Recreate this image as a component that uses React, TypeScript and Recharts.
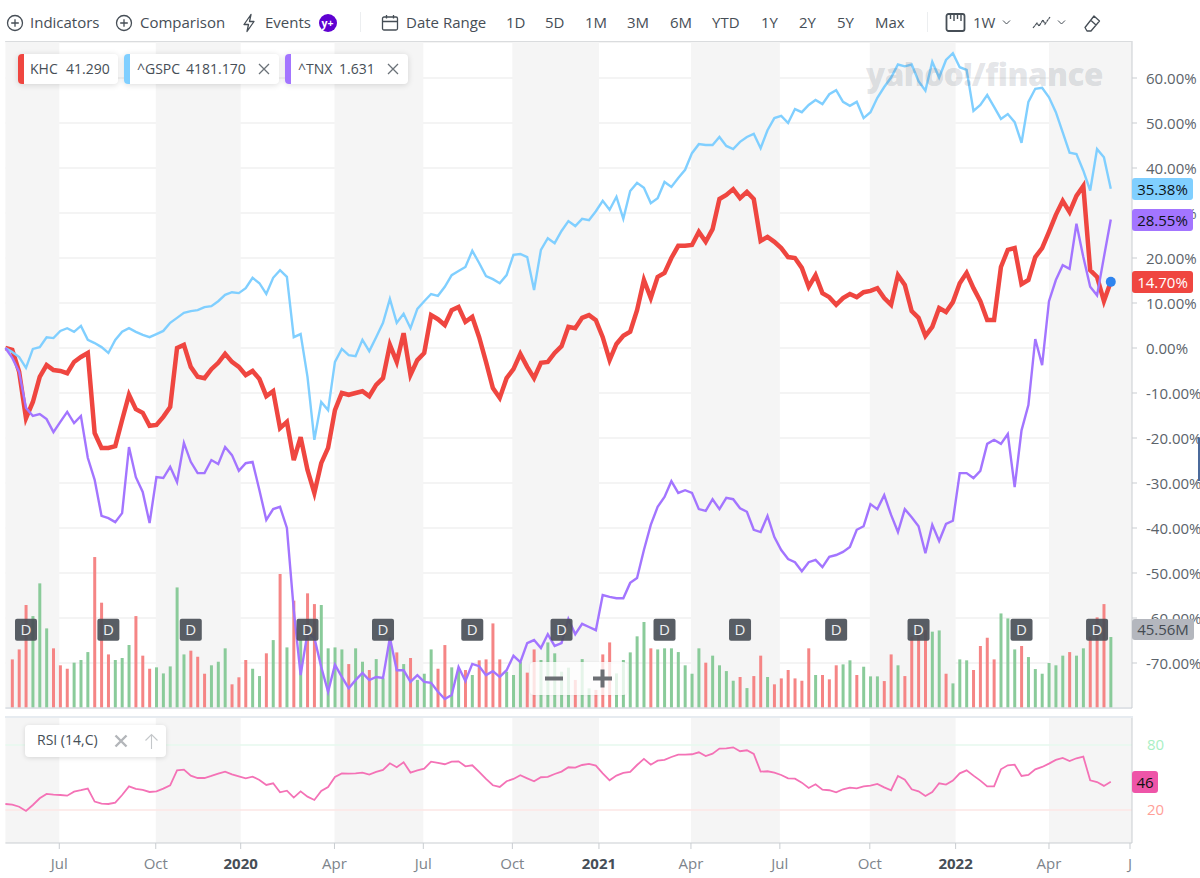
import React from "react";
import { ComposedChart, Line, Bar, Cell, XAxis, YAxis, CartesianGrid, ReferenceArea, ReferenceDot, ReferenceLine } from "recharts";

const khc = [
  0.0, -0.4, -5.3, -15.6, -12.0, -6.4, -3.8, -4.9, -5.1, -5.6,
  -3.1, -2.0, -1.1, -18.9, -22.2, -22.2, -21.8, -16.0, -10.4, -13.6,
  -14.4, -17.3, -17.1, -15.3, -13.1, 0.0, 0.7, -4.2, -6.4, -6.7,
  -4.7, -3.3, -1.3, -3.1, -4.2, -6.0, -5.1, -6.9, -10.7, -9.6,
  -17.8, -16.4, -24.9, -19.8, -27.1, -32.2, -25.6, -22.2, -13.8, -10.0,
  -10.4, -10.0, -9.6, -10.7, -8.2, -6.7, 0.7, -3.1, 3.3, -6.0,
  -2.7, -1.1, 7.3, 6.4, 5.1, 8.4, 9.1, 5.8, 6.9, 2.4,
  -3.1, -8.9, -11.1, -6.7, -4.7, -1.3, -4.2, -6.7, -3.3, -3.1,
  -1.1, 0.4, 4.7, 4.4, 6.7, 7.3, 6.2, 2.4, -2.7, 0.9,
  2.7, 3.6, 8.4, 15.1, 11.1, 15.8, 16.7, 20.0, 22.7, 22.7,
  22.9, 25.8, 23.6, 26.4, 33.1, 34.0, 35.3, 33.3, 34.7, 33.1,
  23.8, 24.7, 23.6, 22.2, 20.2, 20.0, 17.8, 13.6, 16.2, 12.2,
  11.3, 9.6, 11.1, 12.0, 11.3, 12.4, 12.7, 13.3, 11.1, 9.6,
  16.2, 14.0, 8.2, 6.7, 2.7, 4.7, 8.9, 8.0, 10.2, 14.4,
  16.7, 13.3, 10.4, 6.2, 6.2, 18.0, 21.8, 22.2, 14.2, 15.1,
  20.2, 22.2, 25.8, 29.6, 32.7, 30.2, 33.8, 36.0, 17.3, 15.8,
  10.4, 14.7,
];

const gspc = [
  0.0, -0.9, -2.0, -4.4, -0.2, 0.2, 2.4, 2.2, 3.8, 4.4,
  3.6, 4.9, 1.8, 1.1, 0.2, -1.1, 1.8, 3.6, 4.4, 3.6,
  2.9, 2.4, 3.1, 3.8, 5.6, 6.7, 7.8, 8.2, 8.4, 9.1,
  9.3, 10.4, 11.8, 12.4, 12.2, 13.3, 15.6, 14.4, 12.0, 15.6,
  17.3, 15.8, 2.4, 3.1, -6.4, -20.4, -12.0, -13.8, -3.1, -0.2,
  -1.6, -1.8, 1.8, -0.7, 2.4, 5.6, 10.9, 5.6, 7.6, 4.4,
  8.7, 10.4, 12.0, 11.6, 13.6, 16.2, 17.1, 18.0, 21.6, 18.9,
  16.0, 15.3, 14.4, 16.2, 20.7, 20.9, 20.2, 12.9, 21.8, 24.4,
  23.3, 26.0, 28.2, 27.1, 28.7, 28.4, 30.4, 32.7, 30.7, 33.6,
  28.7, 34.9, 36.7, 35.6, 32.2, 33.3, 36.9, 35.8, 37.8, 39.6,
  43.3, 45.3, 45.1, 45.1, 46.9, 44.9, 44.2, 45.8, 46.9, 47.6,
  44.4, 48.4, 51.1, 51.6, 50.0, 53.1, 52.4, 54.0, 55.1, 54.2,
  56.4, 57.3, 54.7, 53.8, 54.7, 51.1, 52.4, 55.6, 58.0, 60.1,
  63.0, 62.6, 63.0, 59.3, 57.2, 63.6, 60.1, 64.0, 65.5, 62.4,
  61.8, 52.7, 54.0, 56.2, 53.6, 50.9, 52.0, 50.2, 45.6, 54.7,
  57.6, 57.8, 55.7, 52.4, 47.9, 43.4, 43.1, 39.4, 35.0, 44.2,
  42.4, 35.38,
];

const tnx = [
  0.0, -2.2, -5.3, -13.3, -15.1, -14.7, -15.8, -18.7, -16.4, -14.2,
  -16.7, -15.1, -24.4, -29.3, -37.3, -37.8, -38.7, -36.7, -22.0, -28.7,
  -32.0, -38.9, -28.7, -28.9, -26.4, -29.8, -21.1, -25.3, -27.8, -27.8,
  -24.9, -25.8, -22.0, -23.8, -27.3, -25.6, -25.3, -31.6, -38.2, -35.8,
  -35.3, -40.0, -58.2, -72.7, -63.3, -64.4, -70.9, -76.4, -70.4, -73.1,
  -75.6, -73.8, -72.2, -73.8, -73.1, -73.3, -64.4, -71.6, -71.6, -74.2,
  -72.7, -74.2, -74.4, -76.4, -78.0, -77.1, -70.9, -74.0, -70.2, -70.7,
  -72.7, -71.8, -73.1, -71.6, -68.4, -69.8, -65.6, -64.9, -66.7, -63.6,
  -66.2, -65.6, -60.2, -63.6, -61.3, -62.0, -62.7, -54.9, -55.3, -55.6,
  -55.6, -52.2, -51.1, -44.9, -39.3, -35.3, -33.1, -29.6, -32.2, -31.6,
  -32.2, -35.8, -36.2, -33.6, -35.8, -33.3, -33.6, -35.6, -36.4, -40.4,
  -40.9, -37.3, -42.0, -44.9, -46.9, -47.6, -49.6, -47.6, -47.1, -48.7,
  -46.4, -46.0, -45.3, -44.2, -40.4, -39.6, -34.7, -35.8, -32.7, -37.1,
  -40.9, -35.8, -37.6, -39.6, -45.6, -39.3, -42.9, -39.1, -38.4, -27.8,
  -27.8, -28.9, -27.3, -21.3, -20.4, -21.3, -19.1, -30.9, -18.3, -12.7,
  2.0, -3.8, 10.4, 15.1, 18.4, 17.6, 27.6, 20.2, 13.6, 11.7,
  20.2, 28.55,
];

const volumeMillions = [
  null, 31.2, 37.6, 66.1, 59.0, 80.0, 51.1, 38.3, 27.4, 25.2,
  29.1, 30.8, 35.9, 96.9, 67.6, 34.4, 30.8, 32.1, 40.4, 59.0,
  33.6, 25.2, 26.1, 22.2, 26.7, 77.4, 34.4, 36.8, 32.9, 22.0,
  27.4, 29.7, 38.3, 15.2, 19.7, 30.8, 25.2, 20.5, 35.1, 43.6,
  86.0, 38.9, 68.9, 43.6, 73.6, 66.7, 66.1, 38.3, 38.9, 37.6,
  28.2, 38.3, 29.7, 24.4, 31.4, 19.0, 43.6, 35.7, 28.2, 32.1,
  18.0, 22.0, 37.6, 25.2, 40.4, 26.1, 25.0, 24.4, 21.2, 30.6,
  31.2, 54.3, 31.2, 23.3, 21.2, 29.7, 22.7, 37.6, 30.8, 42.1,
  35.1, 23.3, 25.9, 18.0, 31.4, 12.6, 11.6, 34.4, 42.1, 22.2,
  30.8, 35.7, 46.0, 55.2, 38.3, 37.6, 38.3, 38.3, 35.9, 27.4,
  22.0, 38.3, 29.1, 33.6, 27.4, 23.7, 17.5, 19.9, 12.8, 20.5,
  33.6, 19.9, 15.2, 19.0, 24.4, 19.0, 17.5, 38.3, 21.2, 21.2,
  18.4, 27.4, 28.0, 30.6, 21.2, 26.5, 20.3, 20.3, 17.3, 34.4,
  27.4, 20.5, 45.8, 49.0, 50.0, 49.0, 49.8, 22.0, 15.8, 31.2,
  30.6, 24.4, 39.8, 45.1, 31.2, 60.7, 57.5, 37.6, 39.8, 32.7,
  25.0, 22.0, 28.9, 27.4, 33.6, 35.9, 33.6, 38.3, 45.8, 58.2,
  66.7, 45.56,
];

const volumeDirection = [
  "", "r", "r", "r", "g", "g", "g", "r", "r", "r",
  "g", "g", "g", "r", "r", "r", "g", "g", "g", "r",
  "r", "r", "g", "g", "g", "g", "g", "r", "r", "r",
  "g", "g", "g", "r", "r", "r", "g", "g", "r", "g",
  "r", "g", "r", "g", "r", "r", "g", "g", "g", "g",
  "r", "g", "g", "r", "g", "g", "g", "r", "g", "r",
  "g", "g", "g", "r", "r", "g", "g", "r", "g", "r",
  "r", "r", "r", "g", "g", "g", "r", "r", "g", "g",
  "g", "g", "g", "r", "g", "g", "r", "r", "r", "g",
  "g", "g", "g", "g", "r", "g", "g", "g", "g", "g",
  "g", "g", "r", "g", "g", "g", "g", "r", "g", "r",
  "r", "g", "r", "r", "r", "r", "r", "r", "g", "r",
  "r", "r", "g", "g", "r", "g", "g", "g", "r", "r",
  "g", "r", "r", "r", "r", "g", "g", "r", "g", "g",
  "g", "r", "r", "r", "r", "g", "g", "g", "r", "g",
  "g", "g", "g", "g", "g", "r", "g", "g", "r", "r",
  "r", "g",
];

const rsi = [
  25.5, 24.9, 23.0, 19.1, 24.6, 30.8, 34.8, 34.2, 33.8, 33.2,
  36.9, 38.2, 39.7, 27.7, 25.8, 25.5, 26.8, 33.8, 41.8, 39.4,
  38.5, 36.6, 37.2, 39.7, 42.8, 56.6, 57.2, 51.7, 49.5, 49.5,
  51.4, 53.5, 55.4, 52.9, 51.1, 49.2, 50.8, 47.7, 43.1, 44.6,
  36.3, 37.8, 31.4, 37.2, 32.3, 29.2, 37.5, 41.2, 50.5, 53.8,
  53.5, 53.8, 54.5, 52.6, 55.1, 56.9, 63.1, 59.4, 64.0, 54.5,
  56.6, 58.2, 64.6, 63.4, 62.2, 64.6, 64.9, 60.3, 61.2, 55.1,
  48.6, 42.8, 41.2, 46.5, 48.6, 52.0, 49.2, 46.5, 50.2, 50.5,
  53.2, 55.4, 59.4, 59.1, 61.5, 62.5, 60.9, 53.8, 47.4, 51.7,
  54.2, 55.1, 61.5, 67.1, 61.8, 65.5, 66.2, 68.9, 71.1, 71.1,
  71.4, 73.2, 69.8, 72.0, 76.6, 76.9, 77.8, 74.2, 75.1, 71.7,
  55.4, 55.7, 54.5, 52.3, 49.2, 48.9, 45.2, 40.3, 43.7, 38.8,
  38.2, 36.3, 39.1, 40.6, 40.0, 41.8, 42.5, 44.0, 40.9, 38.2,
  51.4, 48.0, 39.1, 37.2, 32.9, 36.6, 44.6, 43.4, 47.1, 53.8,
  56.6, 51.7, 47.1, 41.8, 41.8, 57.5, 61.2, 61.8, 51.4, 52.3,
  57.5, 59.7, 62.8, 66.2, 68.0, 65.2, 67.7, 69.2, 47.4, 45.8,
  42.2, 46.0,
];

const dateTickPositions = [7.85, 21.9, 34.27, 47.93, 60.87, 73.84, 86.45, 99.85, 112.8, 125.9, 138.4, 152.0, 163.8];
const dateTickLabels = ["Jul", "Oct", "2020", "Apr", "Jul", "Oct", "2021", "Apr", "Jul", "Oct", "2022", "Apr", "J"];
const shadedFrom = [0, 21.9, 47.93, 73.84, 99.85, 125.9, 152.0];
const shadedTo = [7.85, 34.27, 60.87, 86.45, 112.8, 138.4, 164.09];
const dividendWeeks = [3, 15, 27, 44, 55, 68, 81, 96, 107, 121, 133, 148, 159];
const percentTicks = [60, 50, 40, 30, 20, 10, 0, -10, -20, -30, -40, -50, -60, -70];
const rsiTicks = [80, 20];
const rangeButtons = [["1D", 506], ["5D", 545], ["1M", 585], ["3M", 627], ["6M", 670], ["YTD", 712], ["1Y", 761], ["2Y", 799], ["5Y", 837], ["Max", 875]] as const;

const rows = khc.map((k, i) => ({
  week: i,
  khc: k,
  gspc: gspc[i],
  tnx: tnx[i],
  volume: volumeMillions[i],
  direction: volumeDirection[i],
  rsi: rsi[i],
}));

const FONT = '"Open Sans", "Noto Sans", sans-serif';
const TEXT = "#464e56";
const SHADE = "#f5f5f5";
const BAR_RED = "#f58585";
const BAR_GREEN = "#8acb9a";

const PercentTick = (p: any) => (
  <text x={p.x + 7} y={p.y + 5.5} fontSize={15} fontFamily={FONT} fill="#5b636a" textAnchor="start">
    {p.payload.value.toFixed(2)}%
  </text>
);

const RsiTick = (p: any) => (
  <text x={p.x + 7} y={p.y + 5} fontSize={15} fontFamily={FONT} textAnchor="start" fill={p.payload.value === 80 ? "#a9efc4" : "#ff9f98"}>
    {p.payload.value}
  </text>
);

const DateTick = (p: any) => {
  const idx = dateTickPositions.indexOf(p.payload.value);
  const label = dateTickLabels[idx];
  const isYear = label.length === 4;
  return (
    <text x={p.x} y={p.y + 18} fontSize={15} fontFamily={FONT} textAnchor="middle" fontWeight={isYear ? 700 : 400} fill={isYear ? TEXT : "#7d848b"}>
      {label}
    </text>
  );
};

const DividendMark = (p: any) => (
  <g>
    <rect x={p.cx - 11} y={p.cy - 11} width={22} height={22} rx={2} fill="#4a4f57" fillOpacity={0.92} />
    <text x={p.cx} y={p.cy + 5.5} fontSize={15} fontFamily={FONT} textAnchor="middle" fill="#eef0f2">D</text>
  </g>
);

const Abs = ({ x, y, style, children }: any) => (
  <div style={{ position: "absolute", left: x, top: y, whiteSpace: "nowrap", ...style }}>{children}</div>
);

const Txt = ({ x, children, weight }: any) => (
  <Abs x={x} y={12} style={{ fontSize: 15, lineHeight: "20px", color: TEXT, fontWeight: weight ?? 400 }}>{children}</Abs>
);

const PlusCircle = ({ cx }: { cx: number }) => (
  <svg style={{ position: "absolute", left: cx - 9, top: 14 }} width={18} height={18}>
    <circle cx={9} cy={9} r={7.5} fill="none" stroke={TEXT} strokeWidth={1.3} />
    <path d="M9 5.2V12.8M5.2 9H12.8" stroke={TEXT} strokeWidth={1.3} />
  </svg>
);

const Chip = ({ x, w, color, children }: any) => (
  <div style={{ position: "absolute", left: x, top: 54, width: w, height: 30, background: "#fff", borderRadius: 4, boxShadow: "0 1px 6px rgba(0,0,0,.14)", overflow: "hidden" }}>
    <div style={{ position: "absolute", left: 0, top: 0, bottom: 0, width: 6, background: color }} />
    {children}
  </div>
);

const ChipText = ({ x, children, color }: any) => (
  <span style={{ position: "absolute", left: x, top: 5, fontSize: 14, lineHeight: "20px", color: color ?? TEXT, whiteSpace: "nowrap" }}>{children}</span>
);

const CloseIcon = ({ x }: { x: number }) => (
  <svg style={{ position: "absolute", left: x, top: 9 }} width={12} height={12}>
    <path d="M1 1 11 11M11 1 1 11" stroke="#6b7278" strokeWidth={1.3} />
  </svg>
);

const ValueTag = ({ y, h, w, bg, color, children }: any) => (
  <Abs x={1132} y={y} style={{ width: w, height: h, background: bg, color, borderRadius: 3, fontSize: 15, lineHeight: `${h}px`, textAlign: "center" }}>{children}</Abs>
);

export default function App() {
  return (
    <div style={{ position: "absolute", left: 0, top: 0, width: 1200, height: 878, overflow: "hidden", background: "#fff", fontFamily: FONT }}>
      <PlusCircle cx={15} />
      <Txt x={30}>Indicators</Txt>
      <PlusCircle cx={124} />
      <Txt x={140}>Comparison</Txt>
      <svg style={{ position: "absolute", left: 241, top: 13 }} width={16} height={20}>
        <path d="M10 1.5 3 11.5h4.5L6 18.5l7-10H8.5z" fill="none" stroke={TEXT} strokeWidth={1.3} strokeLinejoin="round" />
      </svg>
      <Txt x={265}>Events</Txt>
      <Abs x={318.5} y={13.5} style={{ width: 18, height: 18, borderRadius: 9, background: "#5f01d1", color: "#fff", fontSize: 10.5, fontWeight: 700, lineHeight: "18px", textAlign: "center" }}>y+</Abs>
      <div style={{ position: "absolute", left: 360, top: 12, width: 1, height: 20, background: "#eceef0" }} />
      <svg style={{ position: "absolute", left: 381, top: 14 }} width={18} height={18}>
        <rect x={1.5} y={3} width={15} height={13} rx={1.5} fill="none" stroke={TEXT} strokeWidth={1.3} />
        <path d="M1.5 7.5H16.5M5.5 1V4.5M12.5 1V4.5" stroke={TEXT} strokeWidth={1.3} />
      </svg>
      <Txt x={406}>Date Range</Txt>
      {rangeButtons.map(([label, x]) => <Txt key={label} x={x}>{label}</Txt>)}
      <div style={{ position: "absolute", left: 927, top: 12, width: 1, height: 20, background: "#eceef0" }} />
      <svg style={{ position: "absolute", left: 945, top: 12 }} width={21} height={21}>
        <rect x={1.5} y={2} width={18} height={17} rx={2} fill="none" stroke={TEXT} strokeWidth={1.8} />
        <path d="M5.5 2V7M9 2V9M12.5 2V7M16 2V9" stroke={TEXT} strokeWidth={1.4} />
      </svg>
      <Txt x={973}>1W</Txt>
      <svg style={{ position: "absolute", left: 1002, top: 19 }} width={9} height={7}><path d="M1 1.5 4.5 5 8 1.5" fill="none" stroke={TEXT} strokeWidth={1} /></svg>
      <svg style={{ position: "absolute", left: 1032, top: 15 }} width={19} height={16}>
        <path d="M1 13 5 8 7 11 11 5 13 9 18 2" fill="none" stroke={TEXT} strokeWidth={1.2} strokeDasharray="3 .5" />
      </svg>
      <svg style={{ position: "absolute", left: 1057, top: 19 }} width={9} height={7}><path d="M1 1.5 4.5 5 8 1.5" fill="none" stroke={TEXT} strokeWidth={1} /></svg>
      <svg style={{ position: "absolute", left: 1083, top: 14 }} width={18} height={20}>
        <path d="M11 2 16.5 7 8 17H4L2 13.5z M7.5 6 13 11" fill="none" stroke={TEXT} strokeWidth={1.3} strokeLinejoin="round" />
      </svg>

      <div style={{ position: "absolute", left: 5, top: 41, width: 1128, height: 1, background: "#e4e6e8" }} />

      <div style={{ position: "absolute", left: 0, top: 0 }}>
        <ComposedChart width={1200} height={710} data={rows} margin={{ top: 42, right: 0, bottom: 2, left: 5.4 }}>
          <XAxis dataKey="week" type="number" domain={[0, 164.09]} hide xAxisId="w" />
          <YAxis yAxisId="pct" orientation="right" width={68} domain={[-80, 68]} ticks={percentTicks} interval={0} tick={PercentTick} axisLine={{ stroke: "#c9cdd1" }} tickLine={{ stroke: "#c9cdd1" }} tickSize={5} />
          <YAxis yAxisId="vol" hide domain={[0, 427.5]} />
          {shadedFrom.map((from, i) => (
            <ReferenceArea key={i} xAxisId="w" yAxisId="pct" x1={from} x2={shadedTo[i]} y1={-80} y2={68} fill={SHADE} fillOpacity={1} stroke="none" />
          ))}
          <CartesianGrid xAxisId="w" yAxisId="pct" vertical={false} stroke="rgba(0,0,0,0.06)" strokeWidth={1.3} />
          <ReferenceLine xAxisId="w" yAxisId="pct" y={-80} stroke="#d9dde2" strokeWidth={1.5} />
          <Bar xAxisId="w" yAxisId="vol" dataKey="volume" barSize={3} isAnimationActive={false}>
            {rows.map((r) => (
              <Cell key={r.week} fill={r.direction === "r" ? BAR_RED : BAR_GREEN} />
            ))}
          </Bar>
          {dividendWeeks.map((w) => (
            <ReferenceDot key={w} xAxisId="w" yAxisId="pct" x={w} y={-62.6} r={11} shape={DividendMark} />
          ))}
          <Line xAxisId="w" yAxisId="pct" dataKey="khc" type="linear" stroke="#ef4640" strokeWidth={4.5} dot={false} isAnimationActive={false} strokeLinejoin="miter" />
          <Line xAxisId="w" yAxisId="pct" dataKey="gspc" type="linear" stroke="#80cfff" strokeWidth={2.4} dot={false} isAnimationActive={false} />
          <Line xAxisId="w" yAxisId="pct" dataKey="tnx" type="linear" stroke="#a375ff" strokeWidth={2.4} dot={false} isAnimationActive={false} />
          <ReferenceDot xAxisId="w" yAxisId="pct" x={161} y={14.7} r={5} fill="#2f84ee" stroke="none" />
        </ComposedChart>
      </div>

      <div style={{ position: "absolute", left: 0, top: 717 }}>
        <ComposedChart width={1200} height={161} data={rows} margin={{ top: 0, right: 0, bottom: 0, left: 5.4 }}>
          <XAxis dataKey="week" type="number" domain={[0, 164.09]} ticks={dateTickPositions} interval={0} tick={DateTick} height={35} axisLine={{ stroke: "#c9cdd1" }} tickLine={{ stroke: "#c9cdd1" }} tickSize={6} />
          <YAxis orientation="right" width={68} domain={[-10.5, 105.8]} ticks={rsiTicks} interval={0} tick={RsiTick} axisLine={{ stroke: "#c9cdd1" }} tickLine={false} />
          {shadedFrom.map((from, i) => (
            <ReferenceArea key={i} x1={from} x2={shadedTo[i]} y1={-10.5} y2={105.8} fill={SHADE} fillOpacity={1} stroke="none" />
          ))}
          <ReferenceLine y={80} stroke="#e6f8ee" strokeWidth={1.5} />
          <ReferenceLine y={20} stroke="#fde6e4" strokeWidth={1.5} />
          <Line dataKey="rsi" type="linear" stroke="#f472b6" strokeWidth={1.8} dot={false} isAnimationActive={false} />
        </ComposedChart>
      </div>
      <div style={{ position: "absolute", left: 5, top: 716, width: 1128, height: 2, background: "#e6ebf0" }} />

      <Chip x={18} w={100} color="#ef4640">
        <ChipText x={12}>KHC</ChipText>
        <ChipText x={48}>41.290</ChipText>
      </Chip>
      <Chip x={124} w={155} color="#80cfff">
        <ChipText x={13}>^GSPC</ChipText>
        <ChipText x={62}>4181.170</ChipText>
        <CloseIcon x={134} />
      </Chip>
      <Chip x={285} w={123} color="#a375ff">
        <ChipText x={13}>^TNX</ChipText>
        <ChipText x={54}>1.631</ChipText>
        <CloseIcon x={102} />
      </Chip>

      <Abs x={866} y={53} style={{ fontSize: 31.4, lineHeight: "42px", fontWeight: 800, letterSpacing: -0.5, color: "rgba(90,100,115,0.18)" }}>yahoo!/finance</Abs>

      <Abs x={530} y={662} style={{ width: 97, height: 33, borderRadius: 4, background: "rgba(255,255,255,0.78)", boxShadow: "0 0 3px rgba(0,0,0,.08)" }} />
      <svg style={{ position: "absolute", left: 530, top: 662 }} width={97} height={33}>
        <path d="M15 16.5H33" stroke="#6c6f74" strokeWidth={4} />
        <path d="M63 16.5H82M72.5 7.5V25.5" stroke="#6c6f74" strokeWidth={4} />
      </svg>

      <Abs x={25} y={725} style={{ width: 141, height: 32, background: "#fff", borderRadius: 4, boxShadow: "0 1px 5px rgba(0,0,0,.13)" }}>
        <ChipText x={12}>RSI (14,C)</ChipText>
        <svg style={{ position: "absolute", left: 89, top: 9 }} width={14} height={14}>
          <path d="M1.5 1.5 12.5 12.5M12.5 1.5 1.5 12.5" stroke="#b3b6ba" strokeWidth={2.4} />
        </svg>
        <svg style={{ position: "absolute", left: 119, top: 8 }} width={15} height={17}>
          <path d="M7.5 16V1.5M1.5 7.5 7.5 1.5 13.5 7.5" fill="none" stroke="#c4c7ca" strokeWidth={1.1} />
        </svg>
      </Abs>

      <ValueTag y={178} h={22} w={61} bg="#80cfff" color="#0f1418">35.38%</ValueTag>
      <ValueTag y={209} h={22} w={61} bg="#a375ff" color="#0f1418">28.55%</ValueTag>
      <ValueTag y={271} h={22} w={61} bg="#ef4640" color="#fff">14.70%</ValueTag>
      <ValueTag y={619} h={21} w={62} bg="#b4b7be" color="#444b52">45.56M</ValueTag>
      <ValueTag y={771} h={22} w={26} bg="#ee55a8" color="#111">46</ValueTag>

      <div style={{ position: "absolute", left: 1198, top: 438, width: 2, height: 43, background: "#4b6a9b" }} />
    </div>
  );
}
